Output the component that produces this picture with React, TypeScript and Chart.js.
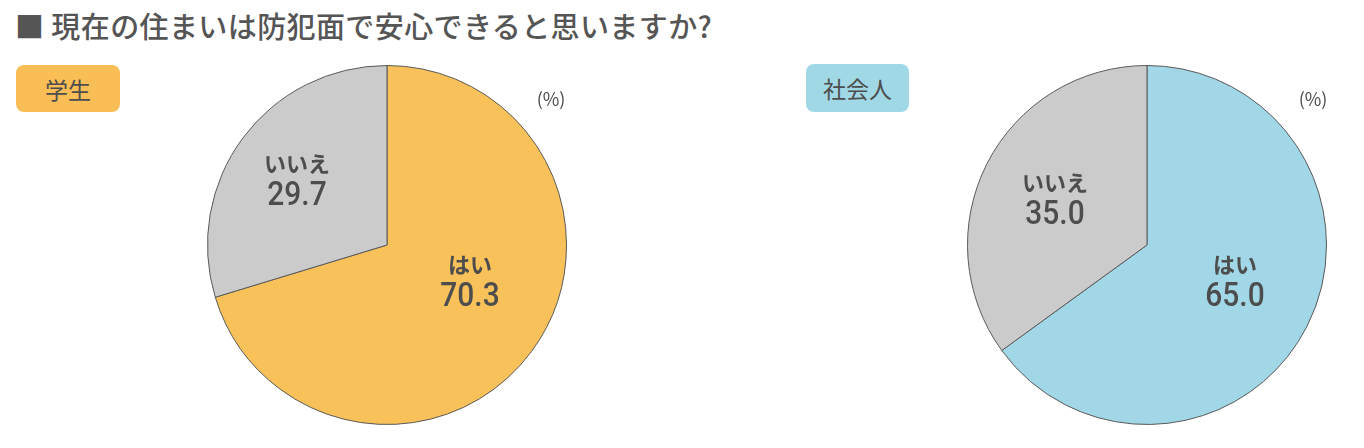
import { useEffect, useRef } from "react";
import { Chart, registerables } from "chart.js";
Chart.register(...registerables);

const answerLabels = ["はい", "いいえ"];
const studentValues = [70.3, 29.7];
const workerValues = [65.0, 35.0];
const titleText = "■ 現在の住まいは防犯面で安心できると思いますか?";
const groupNames = ["学生", "社会人"];
const unitText = "(%)";

const TEXT = "#4d4d4d";
const JP = '"Noto Sans CJK JP", "Noto Sans", sans-serif';

type PieProps = {
  values: number[];
  color: string;
  left: number;
  top: number;
  size: number;
};

const Pie = ({ values, color, left, top, size }: PieProps) => {
  const canvasRef = useRef<HTMLCanvasElement>(null);

  useEffect(() => {
    const canvas = canvasRef.current;
    if (!canvas) return;
    const chart = new Chart(canvas, {
      type: "pie",
      data: {
        labels: answerLabels,
        datasets: [
          {
            data: values,
            backgroundColor: [color, "#cbcbcb"],
            borderColor: "#5a5a5a",
            borderWidth: 1,
            hoverBorderWidth: 1,
            hoverOffset: 0,
            offset: 0,
          },
        ],
      },
      options: {
        animation: false,
        responsive: false,
        maintainAspectRatio: false,
        layout: { padding: 0 },
        plugins: {
          legend: { display: false },
          tooltip: { enabled: false },
        },
        events: [],
      },
    });
    return () => chart.destroy();
  }, [values, color]);

  return (
    <canvas
      ref={canvasRef}
      width={size}
      height={size}
      style={{ position: "absolute", left, top, width: size, height: size }}
    />
  );
};

const Label = ({
  x,
  y,
  name,
  value,
}: {
  x: number;
  y: number;
  name: string;
  value: number;
}) => (
  <>
    <div
      style={{
        position: "absolute",
        left: x,
        top: y - 15,
        transform: "translate(-50%, -50%)",
        fontFamily: JP,
        fontWeight: 700,
        fontSize: 22,
        lineHeight: 1,
        color: TEXT,
        whiteSpace: "nowrap",
      }}
    >
      {name}
    </div>
    <div
      style={{
        position: "absolute",
        left: x,
        top: y + 16,
        transform: "translate(-50%, -50%) scaleX(0.88)",
        fontFamily: "Roboto, sans-serif",
        fontWeight: 500,
        fontSize: 34,
        lineHeight: 1,
        color: TEXT,
        whiteSpace: "nowrap",
      }}
    >
      {value.toFixed(1)}
    </div>
  </>
);

const Badge = ({
  left,
  top,
  width,
  height,
  bg,
  text,
}: {
  left: number;
  top: number;
  width: number;
  height: number;
  bg: string;
  text: string;
}) => (
  <div
    style={{
      position: "absolute",
      left,
      top,
      width,
      height,
      borderRadius: 8,
      background: bg,
      display: "flex",
      alignItems: "center",
      justifyContent: "center",
      fontFamily: JP,
      fontSize: 23,
      color: TEXT,
    }}
  >
    {text}
  </div>
);

const Unit = ({ x, y }: { x: number; y: number }) => (
  <div
    style={{
      position: "absolute",
      left: x,
      top: y,
      transform: "translate(-50%, -50%)",
      fontFamily: JP,
      fontSize: 18,
      lineHeight: 1,
      color: TEXT,
    }}
  >
    {unitText}
  </div>
);

export default function App() {
  return (
    <div
      style={{
        position: "absolute",
        left: 0,
        top: 0,
        width: 1364,
        height: 448,
        background: "#fff",
        overflow: "hidden",
      }}
    >
      <div
        style={{
          position: "absolute",
          left: 15,
          top: 11,
          fontFamily: JP,
          fontWeight: 500,
          fontSize: 29,
          letterSpacing: 0.4,
          lineHeight: 1,
          color: "#555",
          whiteSpace: "nowrap",
        }}
      >
        {titleText}
      </div>

      <Badge left={16} top={65} width={104} height={47} bg="#f9bf56" text={groupNames[0]} />
      <Badge left={806} top={64} width={103} height={48} bg="#a1d8e6" text={groupNames[1]} />

      <Pie values={studentValues} color="#f9c15a" left={207} top={65} size={360} />
      <Pie values={workerValues} color="#a1d7e6" left={967} top={65} size={360} />

      <Unit x={551} y={98} />
      <Unit x={1313} y={98} />

      <Label x={297} y={177} name={answerLabels[1]} value={studentValues[1]} />
      <Label x={470} y={278} name={answerLabels[0]} value={studentValues[0]} />
      <Label x={1055} y={196} name={answerLabels[1]} value={workerValues[1]} />
      <Label x={1235} y={278} name={answerLabels[0]} value={workerValues[0]} />
    </div>
  );
}
